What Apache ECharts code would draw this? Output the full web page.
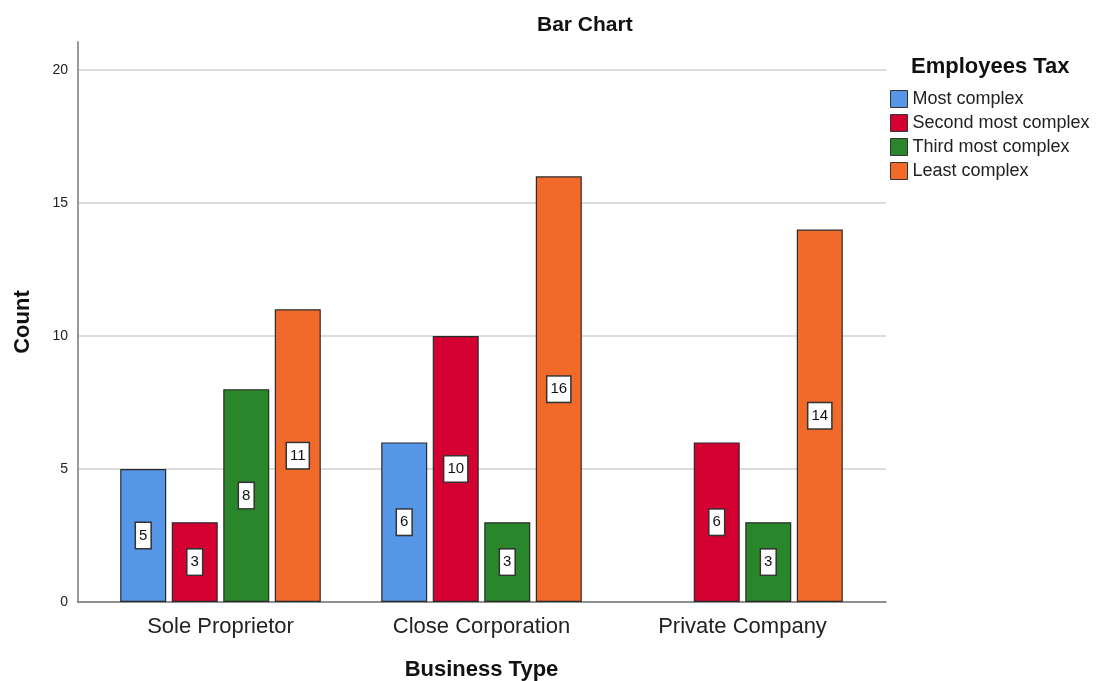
<!DOCTYPE html>
<html>
<head>
<meta charset="utf-8">
<script src="https://cdn.jsdelivr.net/npm/echarts@6/dist/echarts.min.js"></script>
<style>
  html, body { margin: 0; padding: 0; background: #fff; }
  #chart { width: 1100px; height: 681px; }
</style>
</head>
<body>
<div id="chart"></div>
<script>
// Business types along the x axis
const categories = ['Sole Proprietor', 'Close Corporation', 'Private Company'];
// Counts per employees-tax complexity level
const mostComplex = [5, 6, null];
const secondMostComplex = [3, 10, 6];
const thirdMostComplex = [8, 3, 3];
const leastComplex = [11, 16, 14];
const seriesNames = ['Most complex', 'Second most complex', 'Third most complex', 'Least complex'];
const seriesColors = ['#5596E6', '#D50032', '#2A862A', '#F26A2A'];
const seriesData = [mostComplex, secondMostComplex, thirdMostComplex, leastComplex];

const FONT = 'Liberation Sans, Arial, sans-serif';
const Y_MAX = 21.05;

const chart = echarts.init(document.getElementById('chart'), null, { renderer: 'canvas' });

const series = seriesNames.map((name, i) => ({
  name: name,
  type: 'bar',
  xAxisIndex: 1,
  yAxisIndex: 1,
  data: seriesData[i],
  barWidth: 46,
  barGap: '12%',
  itemStyle: { color: seriesColors[i], borderColor: '#2a2a2a', borderWidth: 1.2 },
  label: {
    show: true,
    position: 'inside',
    color: '#111',
    fontFamily: FONT,
    fontSize: 15,
    backgroundColor: '#fff',
    borderColor: '#333',
    borderWidth: 1.5,
    padding: [5, 3, 5, 3]
  }
}));

chart.setOption({
  animation: false,
  backgroundColor: '#fff',
  title: [
    {
      text: 'Bar Chart',
      left: 532, top: 10,
      textStyle: { fontFamily: FONT, fontSize: 21, fontWeight: 'bold', color: '#111' }
    },
    {
      text: 'Employees Tax',
      left: 906, top: 51,
      textStyle: { fontFamily: FONT, fontSize: 22, fontWeight: 'bold', color: '#111' }
    }
  ],
  legend: {
    orient: 'vertical',
    left: 890, top: 90,
    padding: 0,
    itemWidth: 17, itemHeight: 17,
    itemGap: 6,
    icon: 'rect',
    data: seriesNames,
    itemStyle: { borderColor: '#333', borderWidth: 1 },
    textStyle: { fontFamily: FONT, fontSize: 18, color: '#222' }
  },
  grid: [
    // frame: axis lines and gridlines
    { left: 78, right: 214, top: 42, bottom: 79, containLabel: false, outerBoundsMode: 'none' },
    // bars
    { left: 90, right: 227, top: 42, bottom: 79, containLabel: false, outerBoundsMode: 'none' }
  ],
  xAxis: [
    {
      type: 'value', gridIndex: 0, min: 0, max: 1,
      axisLine: { show: true, lineStyle: { color: '#777', width: 1.5 } },
      axisTick: { show: false }, axisLabel: { show: false }, splitLine: { show: false }
    },
    {
      type: 'category', gridIndex: 1, data: categories,
      axisLine: { show: false }, axisTick: { show: false },
      axisLabel: { fontFamily: FONT, fontSize: 22, color: '#222', margin: 14 },
      name: 'Business Type', nameLocation: 'middle', nameGap: 57,
      nameTextStyle: { fontFamily: FONT, fontSize: 22, fontWeight: 'bold', color: '#111' }
    }
  ],
  yAxis: [
    {
      type: 'value', gridIndex: 0, min: 0, max: Y_MAX, interval: 5,
      axisLine: { show: true, lineStyle: { color: '#999', width: 2 } },
      axisTick: { show: false },
      axisLabel: { fontFamily: FONT, fontSize: 14, color: '#222', margin: 10, showMaxLabel: false },
      splitLine: {
        show: true,
        lineStyle: { color: ['#d0d0d0', '#d0d0d0', '#d0d0d0', '#d0d0d0', '#d0d0d0', 'rgba(0,0,0,0)'], width: 1.5 }
      },
      name: 'Count', nameLocation: 'middle', nameGap: 44, nameRotate: 90,
      nameTextStyle: { fontFamily: FONT, fontSize: 22, fontWeight: 'bold', color: '#111' }
    },
    {
      type: 'value', gridIndex: 1, min: 0, max: Y_MAX, show: false
    }
  ],
  series: series
});
</script>
</body>
</html>
